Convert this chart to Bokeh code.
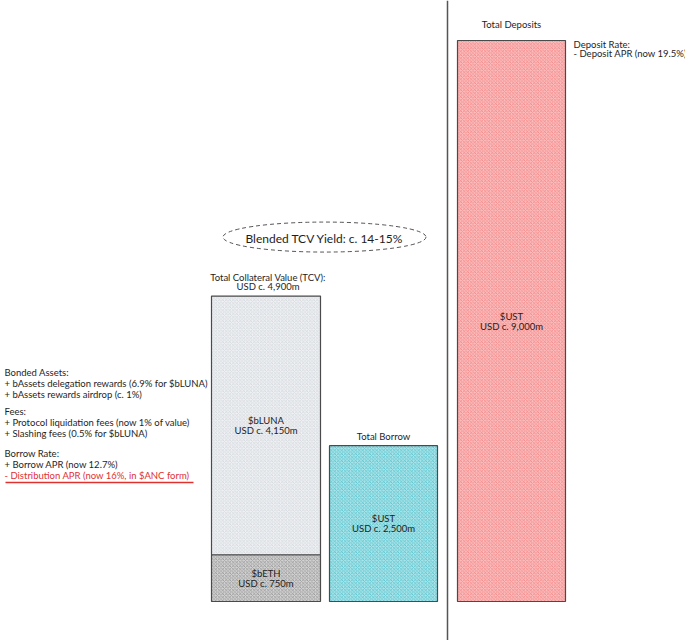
from bokeh.plotting import figure
from bokeh.models import Range1d, Label, Span
from bokeh.embed import file_html
from bokeh.resources import INLINE

# ---- data (USD m) ----
collateral_assets = ["$bLUNA", "$bETH"]
collateral_values = [4150, 750]
collateral_total = 4900
borrow_values = [2500]
deposit_values = [9000]
left_notes = [
    ("Bonded Assets:", "#1e1e1e"),
    ("+ bAssets delegation rewards (6.9% for $bLUNA)", "#1e1e1e"),
    ("+ bAssets rewards airdrop (c. 1%)", "#1e1e1e"),
    ("", None),
    ("Fees:", "#1e1e1e"),
    ("+ Protocol liquidation fees (now 1% of value)", "#1e1e1e"),
    ("+ Slashing fees (0.5% for $bLUNA)", "#1e1e1e"),
    ("", None),
    ("Borrow Rate:", "#1e1e1e"),
    ("+ Borrow APR (now 12.7%)", "#1e1e1e"),
    ("- Distribution APR (now 16%, in $ANC form)", "#e03131"),
]
deposit_notes = ["Deposit Rate:", "- Deposit APR (now 19.5%)"]

# ---- layout ----
W, H = 685, 640
BASE_PX = 601        # page px of baseline
TOP_PX = 40          # page px of largest bar top
k = (BASE_PX - TOP_PX) / max(deposit_values)   # px per USD m
y_top = BASE_PX / k
y_bot = -(H - BASE_PX) / k

p = figure(width=W, height=H, output_backend="svg", toolbar_location=None,
           x_range=Range1d(0, W), y_range=Range1d(y_bot, y_top),
           min_border=0, outline_line_color=None)
p.axis.visible = False
p.grid.visible = False
p.background_fill_color = "white"

FONT = "Lato"
INK = "#1e1e1e"
EDGE = "#4a4a4a"

def sy(px):
    return H - px  # page px -> screen y (from bottom)

# TCV stacked bar
tcv_l, tcv_r = 211, 320
tcv_c = (tcv_l + tcv_r) / 2
eth = collateral_values[1]
luna = collateral_values[0]
p.quad(left=tcv_l, right=tcv_r, bottom=0, top=eth,
       fill_color="#d2d2d2", hatch_pattern="diagonal_cross", hatch_color="#8c8c8c",
       hatch_scale=3.5, hatch_weight=0.7, line_color=EDGE, line_width=1.2)
p.quad(left=tcv_l, right=tcv_r, bottom=eth, top=eth + luna,
       fill_color="#eef0f3", hatch_pattern="diagonal_cross", hatch_color="#cfd3d8",
       hatch_scale=3.5, hatch_weight=0.7, line_color=EDGE, line_width=1.2)

# Borrow bar
b_l, b_r = 329, 437
b_c = (b_l + b_r) / 2
p.quad(left=b_l, right=b_r, bottom=0, top=borrow_values[0],
       fill_color="#a9e4ea", hatch_pattern="diagonal_cross", hatch_color="#4dbcc6",
       hatch_scale=3.5, hatch_weight=0.7, line_color=EDGE, line_width=1.2)

# Deposit bar
d_l, d_r = 457, 565
d_c = (d_l + d_r) / 2
p.quad(left=d_l, right=d_r, bottom=0, top=deposit_values[0],
       fill_color="#fbbcbc", hatch_pattern="diagonal_cross", hatch_color="#f07f7f",
       hatch_scale=3.5, hatch_weight=0.7, line_color=EDGE, line_width=1.2)

# divider
p.add_layout(Span(location=447, dimension="height", line_color="#555555", line_width=1.5))

def lab(x, y, text, size="9.5px", color=INK, align="center", y_offset=0, units="data"):
    p.add_layout(Label(x=x, y=y, text=text, text_font=FONT, text_font_size=size,
                       text_color=color, text_align=align, text_baseline="middle",
                       y_offset=y_offset, x_units="data", y_units=units))

# in-bar labels
lab(tcv_c, eth + luna / 2, collateral_assets[0], y_offset=5)
lab(tcv_c, eth + luna / 2, "USD c. {:,}m".format(luna), y_offset=-5)
lab(tcv_c, eth / 2, collateral_assets[1], y_offset=5)
lab(tcv_c, eth / 2, "USD c. {:,}m".format(eth), y_offset=-5)
lab(b_c, borrow_values[0] / 2, "$UST", y_offset=5)
lab(b_c, borrow_values[0] / 2, "USD c. {:,}m".format(borrow_values[0]), y_offset=-5)
lab(d_c, deposit_values[0] / 2, "$UST", y_offset=5)
lab(d_c, deposit_values[0] / 2, "USD c. {:,}m".format(deposit_values[0]), y_offset=-5)

# titles above bars
lab(tcv_c + 2, collateral_total, "Total Collateral Value (TCV):", y_offset=19)
lab(tcv_c + 2, collateral_total, "USD c. {:,}m".format(collateral_total), y_offset=10)
lab(b_c, borrow_values[0], "Total Borrow", y_offset=9)
lab(d_c, deposit_values[0], "Total Deposits", y_offset=16)

# Blended yield ellipse
p.ellipse(x=324, y=collateral_total + 59 / k, width=203, height=30,
          width_units="data", height_units="screen",
          fill_color=None, line_color="#555555", line_dash="4 3", line_width=1)
lab(324, collateral_total, "Blended TCV Yield: c. 14-15%", size="12px", y_offset=58)

# deposit notes
for i, t in enumerate(deposit_notes):
    lab(573, deposit_values[0], t, align="left", y_offset=-4 - 9 * i)

# left notes
ys = [372, 383, 394, None, 411, 422, 433, None, 453, 464, 475]
for (t, c), yy in zip(left_notes, ys):
    if t:
        p.add_layout(Label(x=4, y=sy(yy), text=t, text_font=FONT, text_font_size="9.5px",
                           text_color=c, text_align="left", text_baseline="middle",
                           x_units="data", y_units="screen"))

# red underline
uy = (BASE_PX - 482) / k
p.line(x=[5, 193], y=[uy, uy], line_color="#e03131", line_width=1.3)

open("out.html", "w").write(file_html(p, INLINE))
